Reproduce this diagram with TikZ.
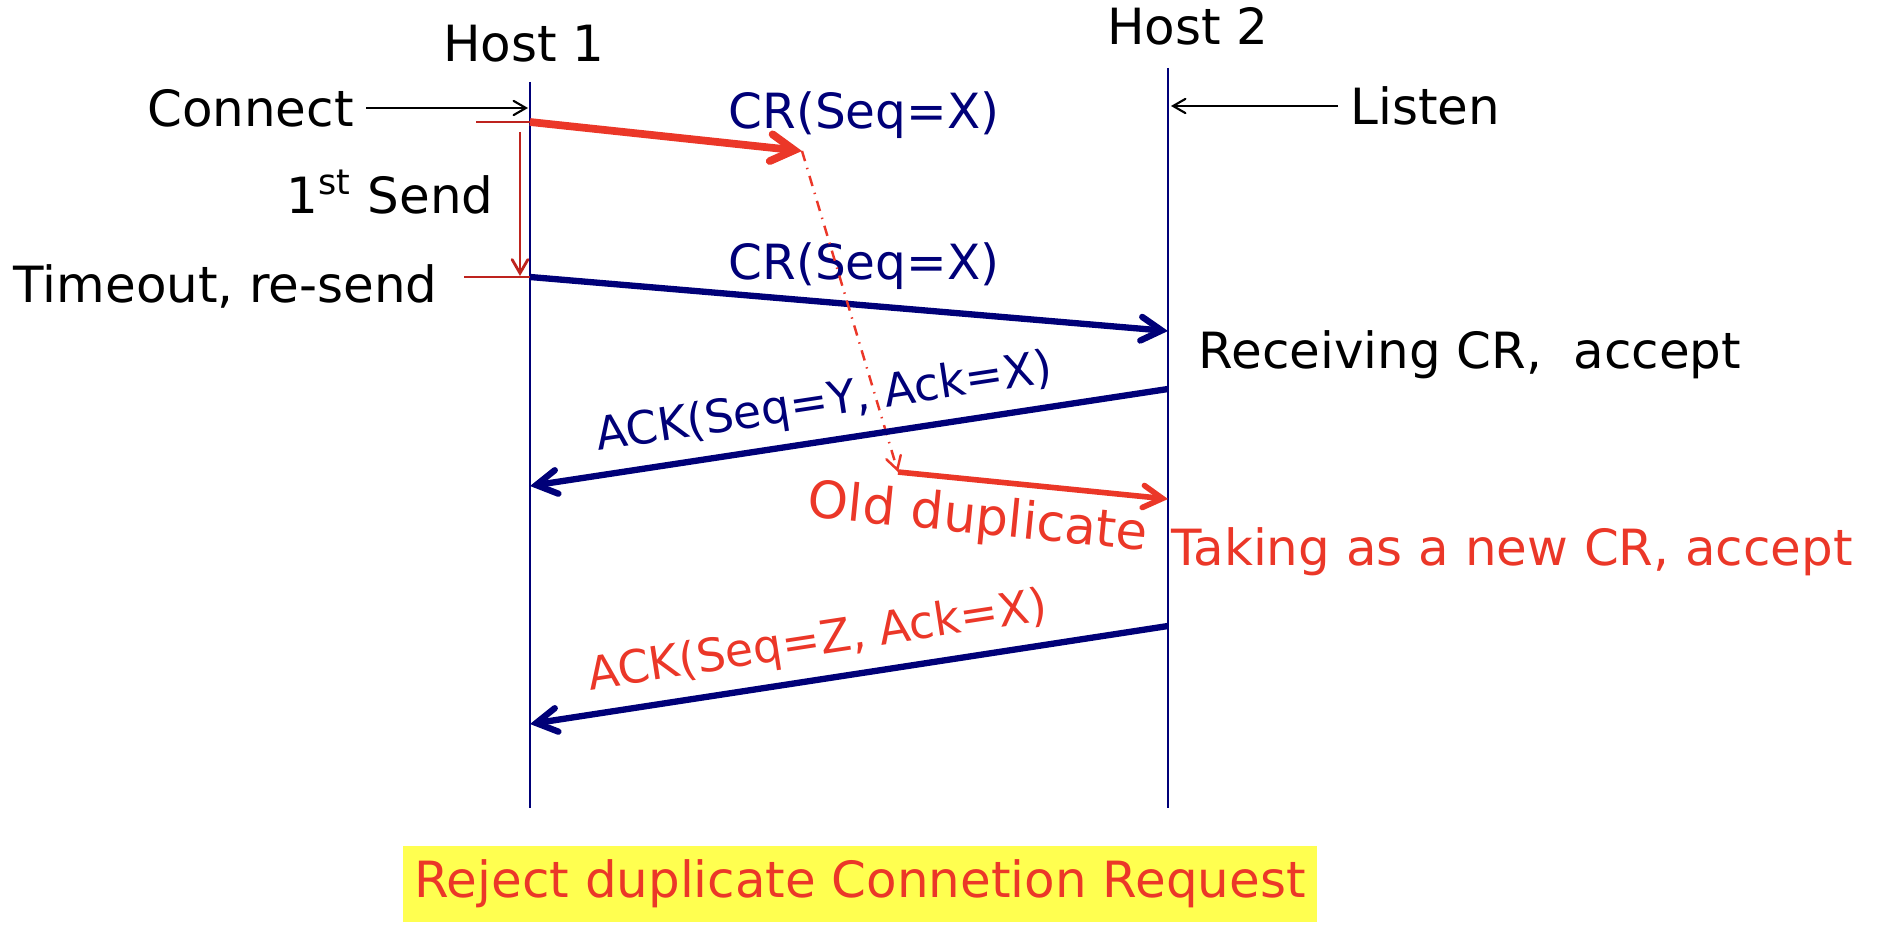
\documentclass[tikz,border=0pt]{standalone}
\usepackage{fontspec}
\setmainfont{DejaVu Sans}
\usetikzlibrary{arrows}
\definecolor{navy}{RGB}{0,0,120}
\definecolor{redline}{RGB}{235,55,40}
\definecolor{darkred}{RGB}{190,35,30}
\definecolor{hiyellow}{RGB}{255,255,80}

\begin{document}
\begin{tikzpicture}[
		font=\fontsize{14.2}{17}\selectfont,
		lifeline/.style={navy, line width=0.8pt},
		msg/.style={->, >=angle 60, line width=1.8pt},
		tick/.style={darkred, line width=0.8pt},
		acklabel/.style={sloped, above, font=\fontsize{13}{15}\selectfont}
	]
		\useasboundingbox (0,0) rectangle (18.82,-9.50);

		\node (host1) at (5.24,-0.44) {Host 1};
		\node (host2) at (11.88,-0.26) {Host 2};
		\coordinate (h1top) at (5.30,-0.82);
		\coordinate (h1bot) at (5.30,-8.08);
		\coordinate (h2top) at (11.68,-0.68);
		\coordinate (h2bot) at (11.68,-8.08);
		\draw[lifeline] (h1top) -- (h1bot);
		\draw[lifeline] (h2top) -- (h2bot);

		% host 1 side
		\node[anchor=east] (connect) at (3.66,-1.08) {Connect};
		\coordinate (c1) at (5.28,-1.08);
		\draw[->, >=angle 60, line width=0.6pt] (connect.east) -- (c1);

		\node[anchor=west] (listen) at (13.38,-1.06) {Listen};
		\coordinate (l2) at (11.71,-1.06);
		\draw[->, >=angle 60, line width=0.6pt] (listen.west) -- (l2);

		\coordinate (t1) at (4.76,-1.22);
		\coordinate (s1) at (5.30,-1.22);
		\coordinate (cr1) at (8.02,-1.51);
		\draw[tick] (t1) -- (s1);
		\draw[msg, redline, line width=2.2pt] (s1) -- (cr1);
		\node[navy, font=\fontsize{13.8}{16}\selectfont] (crlabel1) at (8.64,-1.15) {CR(Seq=X)};

		\coordinate (v1) at (5.20,-1.32);
		\coordinate (v2) at (5.20,-2.76);
		\draw[tick, ->, >=angle 60] (v1) -- (v2);
		\node (first) at (3.90,-1.92) {1\textsuperscript{st} Send};

		\node[anchor=east] (timeout) at (4.50,-2.86) {Timeout, re-send};
		\coordinate (t2) at (4.64,-2.77);
		\coordinate (s2) at (5.30,-2.77);
		\coordinate (r2) at (11.68,-3.31);
		\draw[tick] (t2) -- (s2);
		\draw[msg, navy] (s2) -- (r2);
		\node[navy, font=\fontsize{13.8}{16}\selectfont] (crlabel2) at (8.64,-2.66) {CR(Seq=X)};

		% old duplicate
		\coordinate (dup) at (8.98,-4.72);
		\draw[->, >=angle 60, redline, dash dot, line width=0.7pt] (cr1) -- (dup);
		\coordinate (dup2) at (11.68,-4.99);
		\draw[msg, redline, line width=1.6pt] (dup) -- node[sloped, below, pos=0.31, font=\fontsize{14.6}{17}\selectfont] (oldlabel) {Old duplicate} (dup2);

		% host 2 side
		\node (recv) at (14.70,-3.55) {Receiving CR,\ \ accept};
		\coordinate (a1) at (11.68,-3.89);
		\coordinate (a1e) at (5.30,-4.86);
		\draw[msg, navy] (a1) -- node[acklabel, pos=0.53, navy] (acky) {ACK(Seq=Y, Ack=X)} (a1e);

		\node[redline] (taking) at (15.12,-5.52) {Taking as a new CR, accept};
		\coordinate (a2) at (11.68,-6.26);
		\coordinate (a2e) at (5.30,-7.24);
		\draw[msg, navy] (a2) -- node[acklabel, pos=0.54, redline] (ackz) {ACK(Seq=Z, Ack=X)} (a2e);

		\node[fill=hiyellow, text=redline, minimum width=9.08cm, minimum height=0.76cm] (caption) at (8.60,-8.84) {Reject duplicate Connetion Request};

	\end{tikzpicture}
\end{document}
